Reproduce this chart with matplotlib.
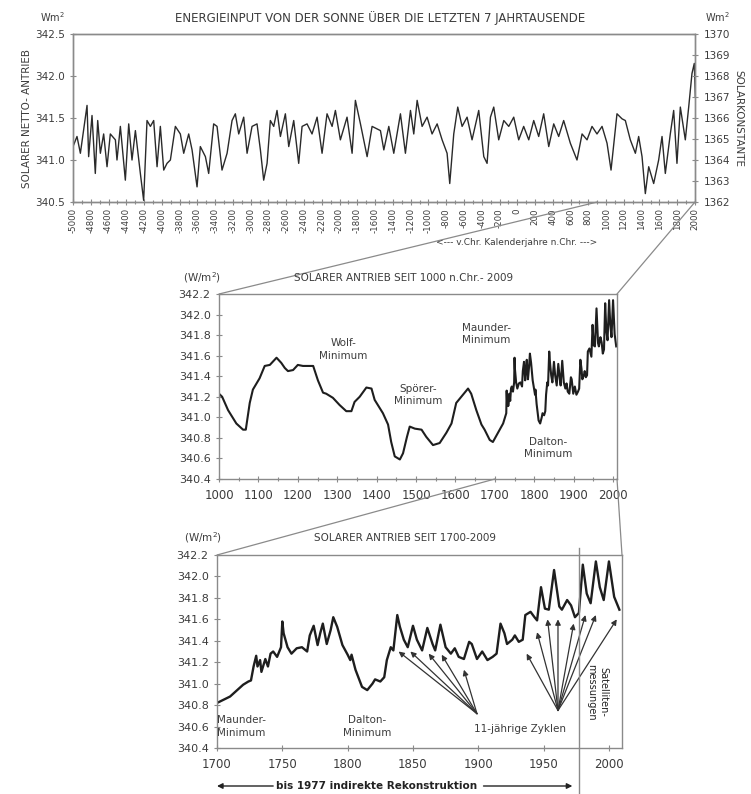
import matplotlib.pyplot as plt
from matplotlib.patches import ConnectionPatch
from matplotlib.lines import Line2D
from matplotlib.transforms import blended_transform_factory

plt.rcParams['font.family'] = ['DejaVu Sans']

# --- top panel: solarer Netto-Antrieb, -5000 .. 2009 (Wm2)
top_years = [-5000, -4955, -4917, -4842, -4824, -4786, -4749, -4722, -4692, -4655,
             -4617, -4580, -4523, -4505, -4467, -4411, -4373, -4336, -4298, -4242,
             -4205, -4167, -4129, -4092, -4054, -4017, -3979, -3942, -3904, -3848,
             -3792, -3754, -3698, -3660, -3604, -3567, -3510, -3473, -3417, -3379,
             -3323, -3266, -3210, -3173, -3135, -3079, -3041, -2985, -2929, -2891,
             -2854, -2816, -2779, -2741, -2704, -2666, -2610, -2572, -2516, -2460,
             -2422, -2366, -2310, -2253, -2197, -2141, -2084, -2047, -1991, -1916,
             -1859, -1822, -1765, -1690, -1634, -1540, -1502, -1446, -1390, -1315,
             -1259, -1202, -1165, -1127, -1071, -1015, -959, -902, -846, -790,
             -760, -715, -670, -621, -565, -509, -434, -377, -340, -302,
             -265, -209, -152, -96, -40, 16, 72, 129, 185, 241,
             297, 354, 410, 466, 522, 597, 672, 729, 785, 841,
             897, 954, 1010, 1055, 1122, 1179, 1216, 1272, 1329, 1366,
             1404, 1441, 1479, 1535, 1591, 1629, 1666, 1722, 1760, 1797,
             1835, 1891, 1929, 1966, 1992, 2004]
top_vals = [341.16, 341.28, 341.08, 341.65, 341.04, 341.53, 340.84, 341.47, 341.08, 341.31,
            340.92, 341.31, 341.24, 341.00, 341.40, 340.76, 341.43, 341.00, 341.35, 340.84,
            340.52, 341.47, 341.40, 341.47, 340.92, 341.40, 340.88, 340.96, 341.00, 341.40,
            341.31, 341.08, 341.31, 341.12, 340.68, 341.16, 341.04, 340.84, 341.43, 341.40,
            340.88, 341.08, 341.47, 341.55, 341.31, 341.51, 341.08, 341.40, 341.43, 341.12,
            340.76, 340.96, 341.47, 341.40, 341.59, 341.28, 341.55, 341.16, 341.47, 340.96,
            341.40, 341.43, 341.31, 341.51, 341.08, 341.55, 341.40, 341.59, 341.24, 341.51,
            341.08, 341.71, 341.43, 341.04, 341.40, 341.35, 341.12, 341.40, 341.08, 341.55,
            341.08, 341.59, 341.31, 341.71, 341.40, 341.51, 341.31, 341.43, 341.24, 341.08,
            340.72, 341.31, 341.63, 341.40, 341.51, 341.24, 341.59, 341.04, 340.96, 341.51,
            341.63, 341.24, 341.47, 341.40, 341.51, 341.24, 341.40, 341.24, 341.47, 341.28,
            341.55, 341.16, 341.43, 341.28, 341.47, 341.20, 341.00, 341.31, 341.24, 341.40,
            341.31, 341.40, 341.20, 340.88, 341.55, 341.49, 341.47, 341.24, 341.08, 341.28,
            341.04, 340.60, 340.92, 340.72, 341.00, 341.28, 340.84, 341.31, 341.59, 340.96,
            341.63, 341.24, 341.63, 342.03, 342.15, 341.75]

# --- middle panel, 1000 .. 1729 (after that the 1700-2009 series is used)
mid_years = [1000, 1008, 1023, 1044, 1061, 1068, 1078, 1086, 1103, 1116,
             1129, 1146, 1158, 1167, 1175, 1188, 1200, 1213, 1239, 1251,
             1264, 1272, 1289, 1306, 1323, 1336, 1344, 1357, 1374, 1387,
             1395, 1408, 1416, 1429, 1437, 1446, 1459, 1467, 1477, 1484,
             1497, 1514, 1526, 1543, 1560, 1577, 1590, 1602, 1619, 1632,
             1640, 1653, 1666, 1674, 1687, 1695, 1708, 1721, 1729]
mid_vals = [341.23, 341.20, 341.07, 340.94, 340.88, 340.88, 341.14, 341.27, 341.38, 341.50,
            341.51, 341.58, 341.53, 341.48, 341.45, 341.46, 341.51, 341.50, 341.50, 341.36,
            341.24, 341.23, 341.19, 341.12, 341.06, 341.06, 341.15, 341.20, 341.29, 341.28,
            341.17, 341.09, 341.04, 340.93, 340.76, 340.62, 340.59, 340.65, 340.81, 340.91,
            340.89, 340.88, 340.81, 340.73, 340.75, 340.85, 340.94, 341.14, 341.22, 341.28,
            341.23, 341.07, 340.93, 340.88, 340.78, 340.76, 340.85, 340.94, 341.04]

# --- bottom panel, 1700 .. 2009
bot_years = [1700, 1710, 1720, 1724, 1726, 1728, 1730, 1731, 1733, 1734,
             1737, 1739, 1741, 1743, 1746, 1749, 1750, 1751, 1754, 1757,
             1761, 1765, 1769, 1771, 1774, 1777, 1779, 1781, 1784, 1787,
             1789, 1792, 1796, 1800, 1802, 1803, 1806, 1811, 1815, 1819,
             1821, 1825, 1828, 1830, 1833, 1835, 1838, 1840, 1843, 1846,
             1850, 1853, 1857, 1861, 1865, 1867, 1871, 1875, 1879, 1882,
             1885, 1889, 1893, 1895, 1899, 1903, 1907, 1911, 1914, 1917,
             1920, 1922, 1926, 1928, 1931, 1934, 1936, 1940, 1943, 1945,
             1948, 1951, 1954, 1958, 1962, 1964, 1968, 1971, 1974, 1977,
             1980, 1983, 1986, 1990, 1993, 1996, 2000, 2004, 2008]
bot_vals = [340.82, 340.88, 340.99, 341.02, 341.03, 341.16, 341.26, 341.16, 341.22, 341.11,
            341.23, 341.16, 341.28, 341.30, 341.25, 341.34, 341.58, 341.47, 341.34, 341.28,
            341.33, 341.34, 341.30, 341.45, 341.54, 341.36, 341.47, 341.56, 341.37, 341.50,
            341.62, 341.53, 341.36, 341.27, 341.22, 341.27, 341.13, 340.97, 340.94, 341.00,
            341.04, 341.02, 341.06, 341.22, 341.34, 341.31, 341.64, 341.53, 341.41, 341.34,
            341.54, 341.41, 341.31, 341.52, 341.37, 341.31, 341.55, 341.34, 341.28, 341.33,
            341.25, 341.23, 341.39, 341.37, 341.23, 341.30, 341.22, 341.25, 341.28, 341.56,
            341.47, 341.37, 341.41, 341.45, 341.39, 341.41, 341.64, 341.67, 341.62, 341.59,
            341.90, 341.70, 341.69, 342.06, 341.72, 341.69, 341.78, 341.73, 341.62, 341.66,
            342.11, 341.84, 341.75, 342.14, 341.90, 341.78, 342.14, 341.81, 341.69]

# 11-jaehrige Zyklen: Pfeilspitzen
cyc1_from = (1899, 340.72)
cyc1_to = [(1839, 341.30), (1848, 341.30), (1862, 341.28), (1872, 341.27), (1889, 341.13)]
cyc2_from = (1961, 340.75)
cyc2_to = [(1937, 341.28), (1945, 341.48), (1953, 341.60), (1961, 341.60),
           (1973, 341.56), (1982, 341.64), (1990, 341.64), (2006, 341.60)]

GRAY = '#8a8a8a'
TXT = '#3c3c3c'
W, H = 751, 794


def box(x0, y0, x1, y1):
    # pixel box (top-left origin) -> figure rect
    return [x0 / W, 1 - y1 / H, (x1 - x0) / W, (y1 - y0) / H]


def style(ax, fs):
    for s in ax.spines.values():
        s.set_color(GRAY)
        s.set_linewidth(1.0)
    ax.tick_params(which='both', direction='inout', color=GRAY, labelcolor=TXT,
                   labelsize=fs, width=0.8)
    ax.tick_params(which='major', length=5)
    ax.tick_params(which='minor', length=3)


fig = plt.figure(figsize=(W / 100, H / 100), dpi=100)

# ---------- top
ax1 = fig.add_axes(box(73, 34, 695, 202))
ax1.plot(top_years, top_vals, color='#2a2a2a', lw=1.0)
ax1.set_xlim(-5000, 2000)
ax1.set_ylim(340.5, 342.5)
ax1.set_xticks(range(-5000, 2001, 200))
ax1.set_xticks(range(-5000, 2001, 100), minor=True)
ax1.set_xticklabels([str(v) for v in range(-5000, 2001, 200)], rotation=90)
ax1.set_yticks([340.5, 341.0, 341.5, 342.0, 342.5])
ax1.set_yticklabels(['340.5', '341.0', '341.5', '342.0', '342.5'])
style(ax1, 7.5)
ax1.tick_params(axis='x', labelsize=6.2, pad=2)
ax1r = ax1.twinx()
ax1r.set_ylim(1362, 1370)
ax1r.set_yticks(range(1362, 1371))
style(ax1r, 7.5)

fig.text(0.506, 1 - 18 / H, 'ENERGIEINPUT VON DER SONNE ÜBER DIE LETZTEN 7 JAHRTAUSENDE',
         ha='center', va='center', fontsize=8.5, color=TXT)
fig.text(52 / W, 1 - 17 / H, 'Wm$^2$', ha='center', va='center', fontsize=7, color=TXT)
fig.text(717 / W, 1 - 17 / H, 'Wm$^2$', ha='center', va='center', fontsize=7, color=TXT)
fig.text(27 / W, 1 - 118 / H, 'SOLARER NETTO- ANTRIEB', rotation=90, ha='center',
         va='center', fontsize=7.5, color=TXT)
fig.text(738 / W, 1 - 118 / H, 'SOLARKONSTANTE', rotation=-90, ha='center',
         va='center', fontsize=7.5, color=TXT)
fig.text(517 / W, 1 - 243 / H, '<--- v.Chr. Kalenderjahre n.Chr. --->', ha='center',
         va='center', fontsize=6.5, color=TXT)

# ---------- middle
ax2 = fig.add_axes(box(219, 294, 617, 479))
m_x = mid_years + [y for y in bot_years if y > 1729]
m_y = mid_vals + [v for y, v in zip(bot_years, bot_vals) if y > 1729]
ax2.plot(m_x, m_y, color='#1e1e1e', lw=1.5)
ax2.set_xlim(1000, 2010)
ax2.set_ylim(340.4, 342.2)
ax2.set_xticks(range(1000, 2001, 100))
ax2.set_xticks(range(1000, 2001, 50), minor=True)
ax2.set_yticks([340.4 + 0.2 * i for i in range(10)])
ax2.set_yticklabels(['%.1f' % (340.4 + 0.2 * i) for i in range(10)])
style(ax2, 8)
ax2.tick_params(axis='x', labelsize=8.5, pad=5)
for txt, x, y in [('Wolf-\nMinimum', 1315, 341.66), ('Spörer-\nMinimum', 1505, 341.22),
                  ('Maunder-\nMinimum', 1678, 341.81), ('Dalton-\nMinimum', 1835, 340.70)]:
    ax2.text(x, y, txt, ha='center', va='center', fontsize=7.5, color=TXT,
             linespacing=1.3)
fig.text(202 / W, 1 - 278 / H, '(W/m$^2$)', ha='center', va='center', fontsize=7.5, color=TXT)
fig.text(404 / W, 1 - 278 / H, 'SOLARER ANTRIEB SEIT 1000 n.Chr.- 2009', ha='center',
         va='center', fontsize=7.5, color=TXT)

# ---------- bottom
ax3 = fig.add_axes(box(217, 555, 622, 748))
ax3.plot(bot_years, bot_vals, color='#1e1e1e', lw=1.7)
ax3.set_xlim(1700, 2010)
ax3.set_ylim(340.4, 342.2)
ax3.set_xticks(range(1700, 2001, 50))
ax3.set_yticks([340.4 + 0.2 * i for i in range(10)])
ax3.set_yticklabels(['%.1f' % (340.4 + 0.2 * i) for i in range(10)])
style(ax3, 8)
ax3.tick_params(axis='x', labelsize=8.5, pad=5)
ax3.text(1700, 340.6, 'Maunder-\nMinimum', ha='left', va='center', fontsize=7.5,
         color=TXT, linespacing=1.3)
ax3.text(1815, 340.6, 'Dalton-\nMinimum', ha='center', va='center', fontsize=7.5,
         color=TXT, linespacing=1.3)
ax3.text(1932, 340.58, '11-jährige Zyklen', ha='center', va='center', fontsize=7.5,
         color=TXT)
ax3.text(1991, 340.92, 'Satelliten-\nmessungen', rotation=-90, ha='center', va='center',
         fontsize=7, color='#222222', linespacing=1.2)
for src, tgts in [(cyc1_from, cyc1_to), (cyc2_from, cyc2_to)]:
    for t in tgts:
        ax3.annotate('', xy=t, xytext=src,
                     arrowprops=dict(arrowstyle='-|>', color='#333333', lw=0.9,
                                     mutation_scale=8, shrinkA=0, shrinkB=0))
fig.text(203 / W, 1 - 538 / H, '(W/m$^2$)', ha='center', va='center', fontsize=7.5, color=TXT)
fig.text(405 / W, 1 - 538 / H, 'SOLARER ANTRIEB SEIT 1700-2009', ha='center',
         va='center', fontsize=7.5, color=TXT)

# 1977-Linie
tr = blended_transform_factory(ax3.transData, fig.transFigure)
fig.add_artist(Line2D([1977, 1977], [0.0, 1 - 548 / H], transform=tr, color=GRAY, lw=1.0))

# bis 1977 indirekte Rekonstruktion
ya = 1 - 786 / H
fig.text(377 / W, ya, 'bis 1977 indirekte Rekonstruktion', ha='center', va='center',
         fontsize=7.5, weight='bold', color='#222222')
ax3.annotate('', xy=(1700, ya), xytext=(1743, ya), xycoords=('data', 'figure fraction'),
             textcoords=('data', 'figure fraction'),
             arrowprops=dict(arrowstyle='-|>', color='#222222', lw=1.0, mutation_scale=8,
                             shrinkA=0, shrinkB=0), annotation_clip=False)
ax3.annotate('', xy=(1972, ya), xytext=(1904, ya), xycoords=('data', 'figure fraction'),
             textcoords=('data', 'figure fraction'),
             arrowprops=dict(arrowstyle='-|>', color='#222222', lw=1.0, mutation_scale=8,
                             shrinkA=0, shrinkB=0), annotation_clip=False)

# Verbindungslinien
for xa, ya_, axa, xb, yb, axb in [(900, 340.5, ax1, 1000, 342.2, ax2),
                                  (2000, 340.5, ax1, 2010, 342.2, ax2),
                                  (1700, 340.4, ax2, 1700, 342.2, ax3),
                                  (2010, 340.4, ax2, 2010, 342.2, ax3)]:
    cp = ConnectionPatch(xyA=(xa, ya_), coordsA=axa.transData, xyB=(xb, yb),
                         coordsB=axb.transData, color=GRAY, lw=0.9)
    fig.add_artist(cp)

fig.savefig('out.png', dpi=100)
